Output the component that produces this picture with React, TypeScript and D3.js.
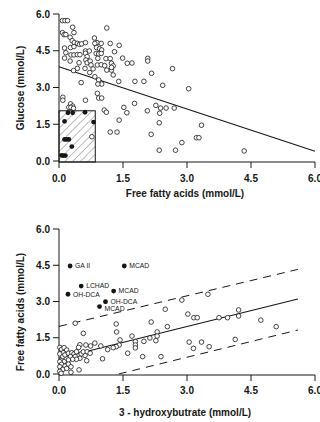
import React from 'react';
import * as d3 from 'd3';

// Panel A: free fatty acids vs glucose
const glucoseOpen: [number, number][] = [
  [0.08, 5.73], [0.14, 5.73], [0.2, 5.73], [0.32, 5.46], [0.35, 5.24], [1.12, 5.43],
  [0.08, 5.24], [0.12, 5.16], [0.16, 5.16], [0.26, 5.05], [0.31, 4.91], [0.36, 4.83],
  [0.43, 4.8], [0.48, 4.76], [0.53, 4.78], [0.62, 4.83], [0.83, 5.02], [0.89, 4.83],
  [0.99, 4.8], [0.84, 4.8], [1.2, 4.8], [1.41, 4.72], [0.13, 4.61], [0.27, 4.63],
  [0.35, 4.67], [0.16, 4.42], [0.28, 4.33], [0.35, 4.33], [0.43, 4.34], [0.49, 4.34],
  [0.13, 4.2], [0.26, 4.08], [0.62, 4.49], [0.71, 4.49], [0.62, 4.4], [0.88, 4.63],
  [0.95, 4.58], [1.0, 4.53], [0.87, 4.39], [0.93, 4.37], [0.99, 4.39], [0.91, 4.19],
  [0.66, 4.26], [0.63, 4.12], [0.66, 4.01], [0.73, 4.08], [0.47, 4.01], [0.43, 3.78],
  [0.34, 3.69], [0.75, 3.92], [0.8, 3.76], [0.72, 3.61], [0.61, 3.78], [0.9, 3.92],
  [0.99, 3.93], [1.1, 4.18], [1.2, 4.18], [1.3, 4.46], [1.23, 3.99], [1.07, 3.89],
  [1.12, 3.71], [1.23, 3.71], [1.27, 3.88], [1.23, 3.82], [1.27, 3.51], [1.4, 3.25],
  [1.49, 4.2], [1.6, 3.99], [1.71, 4.0], [2.08, 4.19], [2.08, 4.08], [2.17, 3.58],
  [2.66, 3.77], [1.78, 3.25], [1.99, 3.25], [0.84, 3.44], [0.93, 3.31], [1.0, 3.14],
  [0.91, 3.14], [0.52, 3.2], [2.43, 3.09], [3.04, 2.95], [0.9, 2.76], [0.93, 2.57],
  [1.0, 2.57], [0.09, 2.6], [0.09, 2.48], [0.62, 2.48], [0.27, 2.33], [0.32, 2.24],
  [0.23, 2.19], [0.28, 2.19], [0.34, 2.15], [1.06, 2.08], [1.11, 1.99], [1.52, 2.19],
  [1.59, 1.97], [1.77, 2.35], [2.07, 2.05], [2.27, 2.27], [2.38, 2.16], [2.51, 2.16],
  [2.36, 1.95], [2.7, 2.16], [1.41, 1.67], [2.35, 1.56], [3.34, 1.46], [1.2, 1.18],
  [1.36, 1.18], [2.16, 1.09], [0.77, 0.99], [3.22, 0.95], [3.28, 0.95], [2.88, 0.75],
  [2.35, 0.44], [2.73, 0.44], [4.34, 0.41],
];
const glucoseFilled: [number, number][] = [
  [0.21, 1.97], [0.32, 1.97], [0.61, 1.99], [0.13, 1.62], [0.81, 1.59], [0.13, 0.88],
  [0.18, 0.88], [0.23, 0.88], [0.3, 0.59], [0.06, 0.23], [0.1, 0.22], [0.15, 0.22],
];
const glucoseFit: [number, number][] = [[0, 3.85], [6.0, 0.4]];
const hypoBox = { x: 0.85, y: 2.05 };

// Panel B: 3-hydroxybutrate vs free fatty acids
const ffaOpen: [number, number][] = [
  [0.38, 2.1], [0.57, 1.68], [1.34, 2.07], [1.35, 1.74], [2.49, 2.68], [2.88, 3.06],
  [3.49, 3.3], [2.16, 2.15], [2.54, 1.96], [2.3, 1.74], [3.02, 2.48], [3.16, 2.33],
  [3.24, 2.33], [3.75, 2.33], [3.95, 2.33], [4.21, 2.4], [4.21, 2.65], [4.73, 2.23],
  [5.09, 1.96], [4.13, 1.43], [3.05, 1.32], [3.34, 1.32], [3.15, 1.06], [3.52, 1.13],
  [1.99, 1.35], [2.13, 1.49], [2.3, 1.57], [2.27, 1.38], [1.71, 1.57], [1.79, 1.34],
  [1.79, 1.2], [1.79, 1.08], [1.43, 1.41], [1.41, 1.2], [1.34, 1.13], [1.27, 1.09],
  [1.14, 1.01], [0.98, 1.16], [1.02, 0.63], [1.61, 0.86], [1.96, 0.72], [2.39, 0.72],
  [0.84, 1.28], [0.74, 1.16], [0.63, 1.2], [0.49, 1.21], [0.46, 1.1], [0.61, 0.77],
  [0.65, 0.55], [0.47, 0.17], [0.28, 0.07], [0.02, 1.1], [0.06, 1.02], [0.12, 1.09],
  [0.18, 0.99], [0.1, 0.88], [0.02, 0.83], [0.09, 0.72], [0.14, 0.79], [0.22, 0.86],
  [0.3, 0.88], [0.35, 0.83], [0.41, 0.92], [0.27, 0.72], [0.38, 0.72], [0.52, 0.83],
  [0.57, 0.92], [0.66, 0.92], [0.73, 0.86], [0.49, 0.65], [0.41, 0.61], [0.32, 0.61],
  [0.22, 0.58], [0.12, 0.51], [0.02, 0.51], [0.06, 0.4], [0.14, 0.33], [0.02, 0.3],
  [0.09, 0.19], [0.02, 0.11], [0.05, 0.03], [0.18, 0.23], [0.22, 0.41], [0.28, 0.3],
];
const defectNames = ['GA II', 'MCAD', 'LCHAD', 'OH-DCA', 'MCAD', 'OH-DCA', 'MCAD'];
const defectX = [0.26, 1.53, 0.52, 0.21, 1.28, 1.09, 0.95];
const defectY = [4.47, 4.47, 3.64, 3.3, 3.43, 2.99, 2.79];
const ffaFit: [number, number][] = [[0, 0.65], [5.6, 3.1]];
const ffaUpper: [number, number][] = [[0, 1.97], [5.6, 4.33]];
const ffaLower: [number, number][] = [[1.4, 0], [5.6, 1.82]];

const ticks = [0, 1.5, 3.0, 4.5, 6.0];
const font = '"Liberation Sans", Arial, sans-serif';
const ink = '#161616';

const Axes = ({ x, y, xTitle, yTitle, titleY, labelY, yTitleMid }: any) => (
  <g fontFamily={font} fill={ink}>
    <line x1={x(0)} x2={x(0)} y1={y(6)} y2={y(0) + 1} stroke={ink} />
    <line x1={x(0)} x2={x(6)} y1={y(0) + 1} y2={y(0) + 1} stroke={ink} />
    {ticks.map((t) => (
      <g key={'y' + t}>
        <line x1={x(0) - 6} x2={x(0)} y1={y(t)} y2={y(t)} stroke={ink} />
        <text x={x(0) - 9} y={y(t)} dy="0.35em" textAnchor="end" fontSize={10} fontWeight="bold">
          {t.toFixed(1)}
        </text>
      </g>
    ))}
    {ticks.map((t) => (
      <g key={'x' + t}>
        <line x1={x(t)} x2={x(t)} y1={y(0) + 1} y2={y(0) + 7} stroke={ink} />
        <text x={x(t)} y={labelY} dy="0.35em" textAnchor="middle" fontSize={10} fontWeight="bold">
          {t.toFixed(1)}
        </text>
      </g>
    ))}
    <text x={(x(0) + x(6)) / 2 - 2} y={titleY} dy="0.35em" textAnchor="middle" fontSize={10} fontWeight="bold">
      {xTitle}
    </text>
    <text
      transform={`translate(20,${yTitleMid}) rotate(-90)`}
      dy="0.35em"
      textAnchor="middle"
      fontSize={10}
      fontWeight="bold"
    >
      {yTitle}
    </text>
  </g>
);

export default function App() {
  const x = d3.scaleLinear().domain([0, 6]).range([59, 315]);
  const yTop = d3.scaleLinear().domain([0, 6]).range([161, 14]);
  const yBot = d3.scaleLinear().domain([0, 6]).range([374, 229]);

  const lineTop = d3.line<[number, number]>().x((d) => x(d[0])).y((d) => yTop(d[1]));
  const lineBot = d3.line<[number, number]>().x((d) => x(d[0])).y((d) => yBot(d[1]));

  return (
    <svg
      width={320}
      height={422}
      style={{ position: 'absolute', left: 0, top: 0, background: '#fff' }}
    >
      <defs>
        <pattern id="hatch" width={5.5} height={5.5} patternUnits="userSpaceOnUse" patternTransform="rotate(45)">
          <line x1={0} y1={0} x2={0} y2={5.5} stroke="#444" strokeWidth={0.7} />
        </pattern>
      </defs>

      {/* top panel */}
      <rect
        x={x(0)}
        y={yTop(hypoBox.y)}
        width={x(hypoBox.x) - x(0)}
        height={yTop(0) - yTop(hypoBox.y) + 1}
        fill="url(#hatch)"
        stroke={ink}
        strokeWidth={1}
      />
      <Axes
        x={x}
        y={yTop}
        xTitle="Free fatty acids (mmol/L)"
        yTitle="Glucose (mmol/L)"
        labelY={178}
        titleY={193}
        yTitleMid={88}
      />
      <path d={lineTop(glucoseFit) || ''} stroke={ink} strokeWidth={1.1} fill="none" />
      {glucoseOpen.map((d, i) => (
        <circle key={'go' + i} cx={x(d[0])} cy={yTop(d[1])} r={2.3} fill="#fff" stroke={ink} strokeWidth={0.8} />
      ))}
      {glucoseFilled.map((d, i) => (
        <circle key={'gf' + i} cx={x(d[0])} cy={yTop(d[1])} r={2.4} fill={ink} />
      ))}

      {/* bottom panel */}
      <Axes
        x={x}
        y={yBot}
        xTitle="3 - hydroxybutrate (mmol/L)"
        yTitle="Free fatty acids (mmol/L)"
        labelY={390}
        titleY={412}
        yTitleMid={312}
      />
      <path d={lineBot(ffaUpper) || ''} stroke={ink} strokeWidth={1} strokeDasharray="8,6" fill="none" />
      <path d={lineBot(ffaLower) || ''} stroke={ink} strokeWidth={1} strokeDasharray="8,6" fill="none" />
      <path d={lineBot(ffaFit) || ''} stroke={ink} strokeWidth={1.1} fill="none" />
      {ffaOpen.map((d, i) => (
        <circle key={'fo' + i} cx={x(d[0])} cy={yBot(d[1])} r={2.3} fill="#fff" stroke={ink} strokeWidth={0.8} />
      ))}
      {defectNames.map((name, i) => (
        <g key={'df' + i}>
          <circle cx={x(defectX[i])} cy={yBot(defectY[i])} r={2.4} fill={ink} />
          <text
            x={x(defectX[i]) + 5}
            y={yBot(defectY[i]) + (i === 6 ? 2.5 : 0)}
            dy="0.35em"
            fontFamily={font}
            fontSize={6.8}
            fill={ink}
          >
            {name}
          </text>
        </g>
      ))}
    </svg>
  );
}
